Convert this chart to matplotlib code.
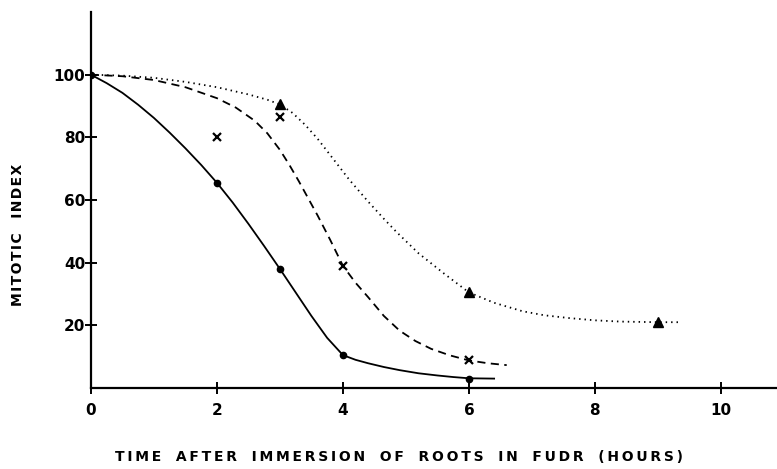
import matplotlib.pyplot as plt

# data points (hours, mitotic index)
solid_x = [0, 2, 3, 4, 6]
solid_y = [100, 65.5, 38, 10.5, 3]
cross_x = [2, 3, 4, 6]
cross_y = [80, 86.5, 39, 9]
tri_x = [3, 6, 9]
tri_y = [90.5, 30.5, 21]

# hand drawn curves
solid_cx = [0, 0.25, 0.5, 0.75, 1, 1.25, 1.5, 1.75, 2, 2.25, 2.5, 2.75, 3, 3.25, 3.5, 3.75,
            4, 4.2, 4.4, 4.65, 4.9, 5.2, 5.5, 5.75, 6, 6.4]
solid_cy = [100, 97.3, 94.2, 90.4, 86.2, 81.5, 76.5, 71.2, 65.5, 59.2, 52.4, 45.3, 38, 30.5, 23, 16,
            10.5, 9, 7.9, 6.7, 5.7, 4.7, 4, 3.5, 3.1, 3]
dash_cx = [0, 0.5, 1, 1.5, 2, 2.3, 2.6, 2.8, 3, 3.15, 3.3, 3.45, 3.6, 3.8, 4, 4.2, 4.4, 4.65,
           4.9, 5.15, 5.4, 5.7, 6, 6.3, 6.6]
dash_cy = [100, 99.5, 98.3, 96, 92.5, 89.5, 85.3, 81.3, 76, 71.2, 66, 60.5, 55, 47.2, 39, 33.6,
           29, 23, 18.3, 15, 12.5, 10.4, 8.8, 7.9, 7.3]
dot_cx = [0, 0.5, 1, 1.5, 2, 2.5, 2.8, 3, 3.2, 3.4, 3.6, 3.85, 4.1, 4.4, 4.65, 4.85, 5.2, 5.6,
          6, 6.4, 6.85, 7.2, 7.6, 8, 8.4, 9, 9.35]
dot_cy = [100, 99.7, 99, 97.7, 96, 93.7, 92, 90.5, 87.8, 84, 79.5, 73, 66.5, 59.5, 54, 49.8,
          43, 36.6, 30.5, 27.2, 24.5, 23.2, 22.3, 21.6, 21.2, 21, 21]

fig = plt.figure(figsize=(7.77, 4.69), dpi=100)
ax = fig.add_axes([0.117, 0.1727, 0.883, 0.8017])

ax.plot(solid_cx, solid_cy, color='black', lw=1.3, solid_joinstyle='round')
ax.plot(dash_cx, dash_cy, color='black', lw=1.3, dashes=(4.5, 3))
ax.plot(dot_cx, dot_cy, color='black', lw=1.3, dashes=(0.8, 2.2))

ax.plot(solid_x, solid_y, 'o', color='black', ms=4.5)
ax.plot(cross_x, cross_y, 'x', color='black', ms=6, mew=1.6)
ax.plot(tri_x, tri_y, '^', color='black', ms=7)

ax.set_xlim(0, 10.89)
ax.set_ylim(0, 120)
ax.set_xticks([0, 2, 4, 6, 8, 10])
ax.set_yticks([20, 40, 60, 80, 100])
ax.spines['top'].set_visible(False)
ax.spines['right'].set_visible(False)
ax.spines['left'].set_linewidth(1.6)
ax.spines['bottom'].set_linewidth(1.6)
ax.tick_params(axis='x', direction='inout', length=9, width=1.4, labelsize=11, pad=6)
ax.tick_params(axis='y', direction='inout', length=8, width=1.4, labelsize=11, pad=0)
for lab in ax.get_xticklabels() + ax.get_yticklabels():
    lab.set_fontweight('semibold')


def spaced(s, gap='\u200a'):
    # a little letter spacing, wide gaps between words
    return '   '.join(gap.join(w) for w in s.split(' '))


fig.text(0.023, 0.499, spaced('MITOTIC INDEX'), rotation=90, ha='center', va='center',
         fontsize=10, fontweight='semibold')
fig.text(0.514, 0.011, spaced('TIME AFTER IMMERSION OF ROOTS IN FUDR (HOURS)', '\u2009'),
         ha='center', va='bottom', fontsize=10, fontweight='semibold')

fig.savefig('out.png', dpi=100)
